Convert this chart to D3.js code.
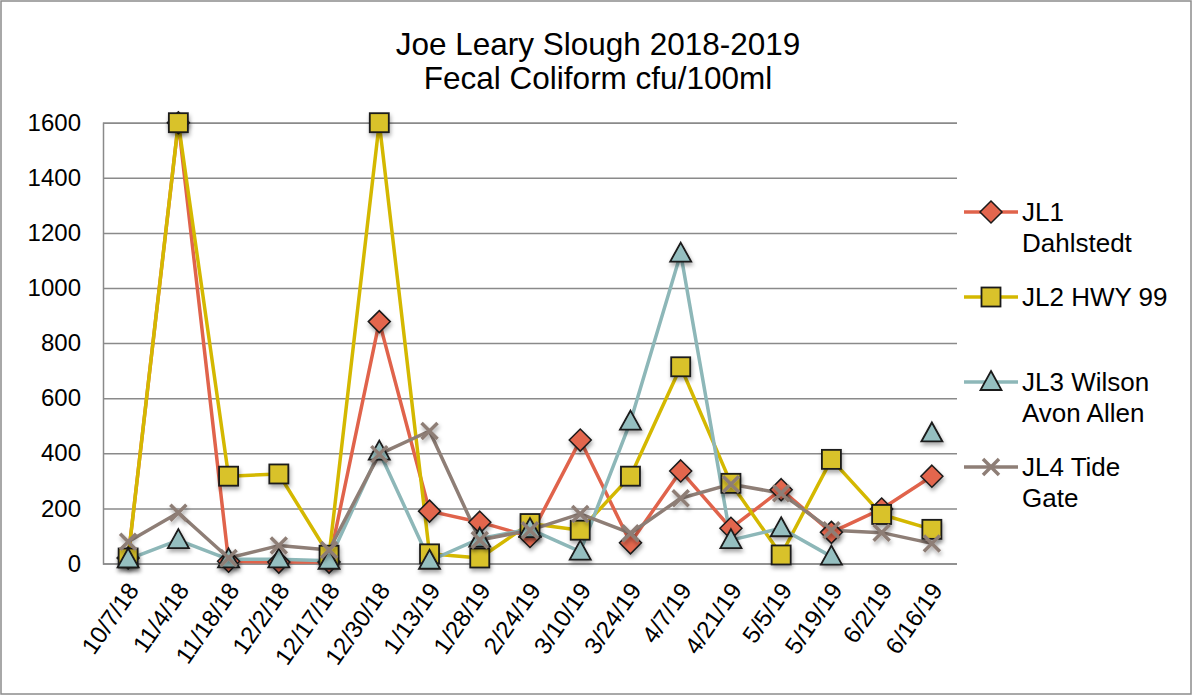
<!DOCTYPE html>
<html><head><meta charset="utf-8">
<script src="https://cdn.jsdelivr.net/npm/d3@7"></script>
<style>body{margin:0;background:#fff}svg{display:block;font-family:"Liberation Sans",Arial,sans-serif}</style>
</head><body><svg id="c" width="1193" height="696"></svg>
<script>
const categories = ["10/7/18","11/4/18","11/18/18","12/2/18","12/17/18","12/30/18","1/13/19","1/28/19","2/24/19","3/10/19","3/24/19","4/7/19","4/21/19","5/5/19","5/19/19","6/2/19","6/16/19"];
const jl1 = [20,1600,8,5,5,878,190,150,98,448,75,336,128,268,113,198,317];
const jl2 = [20,1600,317,325,30,1600,35,20,145,121,317,714,291,31,378,178,124];
const jl3 = [15,85,15,15,10,406,10,90,125,43,515,1125,85,128,25,null,472];
const jl4 = [79,184,20,65,49,397,481,85,121,180,110,237,288,255,121,112,73];
const seriesNames = [["JL1","Dahlstedt"],["JL2 HWY 99"],["JL3 Wilson","Avon Allen"],["JL4 Tide","Gate"]];
const yTicks = [0,200,400,600,800,1000,1200,1400,1600];

const svg = d3.select("#c");
const defs = svg.append("defs");
const f = defs.append("filter").attr("id","sh").attr("x","-50%").attr("y","-50%").attr("width","200%").attr("height","200%");
f.append("feDropShadow").attr("dx",1).attr("dy",3).attr("stdDeviation",2).attr("flood-color","#000").attr("flood-opacity",0.35);

svg.append("rect").attr("x",1).attr("y",1).attr("width",1190).attr("height",693).attr("fill","#fff").attr("stroke","#8c8c8c").attr("stroke-width",1.5);

const L=103,R=957,T=122.7,B=563.5;
const x = d3.scaleBand().domain(categories).range([L,R]);
const y = d3.scaleLinear().domain([0,1600]).range([B,T]);
const cx = d => x(d)+x.bandwidth()/2;

// title
const title = svg.append("text").attr("text-anchor","middle").attr("font-size",31.5).attr("fill","#000");
title.append("tspan").attr("x",598).attr("y",55).text("Joe Leary Slough 2018-2019");
title.append("tspan").attr("x",598).attr("y",89).text("Fecal Coliform cfu/100ml");

// grid
const yAxis = d3.axisLeft(y).tickValues(yTicks).tickSize(-(R-L)).tickPadding(22).tickFormat(d3.format("d"));
const ga = svg.append("g").attr("transform",`translate(${L},0)`).call(yAxis);
ga.select(".domain").attr("stroke","#8a8a8a").attr("stroke-width",1.5);
ga.selectAll(".tick line").attr("stroke","#8a8a8a").attr("stroke-width",1.5);
ga.selectAll(".tick text").attr("font-size",24).attr("fill","#000").attr("font-family","Liberation Sans, Arial, sans-serif");

// x labels
const xAxis = d3.axisBottom(x).tickSize(0);
const gx = svg.append("g").attr("transform",`translate(0,${B})`).call(xAxis);
gx.select(".domain").remove();
gx.selectAll(".tick text").attr("font-size",24).attr("fill","#000").attr("font-family","Liberation Sans, Arial, sans-serif")
  .attr("text-anchor","end").attr("dy","0.35em").attr("x",0).attr("y",0)
  .attr("transform","translate(5,22) rotate(-55)");

const series = [
 {v:jl1, line:"#E0634B", fill:"#E3664E", m:"diamond"},
 {v:jl2, line:"#D4B800", fill:"#D9C22B", m:"square"},
 {v:jl3, line:"#8DB7B8", fill:"#95BFC0", m:"triangle"},
 {v:jl4, line:"#8E7E76", fill:"#8E7E76", m:"x"}
];

function marker(g, type, s){
  if(type==="diamond") return g.append("path").attr("d","M0,-11L11,0L0,11L-11,0Z").attr("fill",s.fill).attr("stroke","#1a1a1a").attr("stroke-width",1.5);
  if(type==="square") return g.append("rect").attr("x",-9.5).attr("y",-9.5).attr("width",19).attr("height",19).attr("fill",s.fill).attr("stroke","#1a1a1a").attr("stroke-width",1.8);
  if(type==="triangle") return g.append("path").attr("d","M0,-11L10.5,8L-10.5,8Z").attr("fill",s.fill).attr("stroke","#1a1a1a").attr("stroke-width",1.8);
  return g.append("path").attr("d","M-8,-8L8,8M-8,8L8,-8").attr("stroke",s.line).attr("stroke-width",3.5).attr("fill","none");
}

const line = d3.line().defined(d=>d.v!=null).x(d=>cx(d.c)).y(d=>y(d.v));
series.forEach(s=>{
  const data = categories.map((c,i)=>({c, v:s.v[i]}));
  svg.append("path").datum(data).attr("d",line).attr("fill","none").attr("stroke",s.line).attr("stroke-width",3.5).attr("stroke-linejoin","round");
  s.data=data;
});
series.forEach(s=>{
  s.data.filter(d=>d.v!=null).forEach(d=>{
    const g = svg.append("g").attr("transform",`translate(${cx(d.c)},${y(d.v)})`).attr("filter","url(#sh)");
    marker(g, s.m, s);
  });
});

// legend
const legY = [212,297,382,467];
series.forEach((s,i)=>{
  const g = svg.append("g").attr("transform",`translate(0,${legY[i]})`);
  g.append("line").attr("x1",964).attr("x2",1018).attr("y1",0).attr("y2",0).attr("stroke",s.line).attr("stroke-width",3.5);
  const mg = g.append("g").attr("transform","translate(991,0)");
  marker(mg, s.m, s);
  const t = g.append("text").attr("font-size",26).attr("fill","#000");
  seriesNames[i].forEach((n,j)=>t.append("tspan").attr("x",1022).attr("y",9+j*31).text(n));
});
</script></body></html>
